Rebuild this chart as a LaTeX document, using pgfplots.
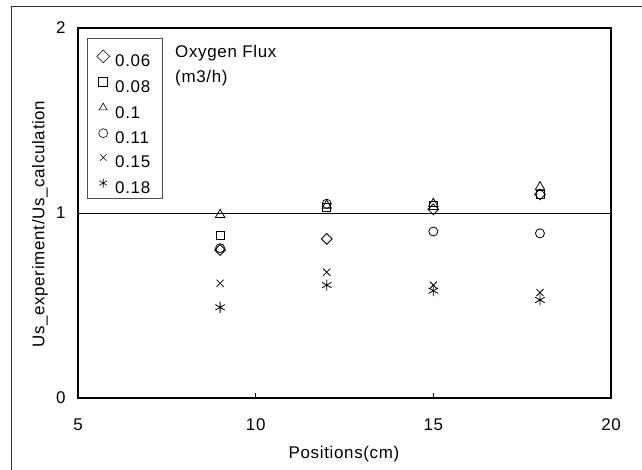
\documentclass[border=0pt]{standalone}
\usepackage{pgfplots}
\pgfplotsset{compat=1.18}
\usepackage{fontspec}
\setmainfont{Liberation Sans}[LetterSpace=4]
\begin{document}
\begin{tikzpicture}[x=1bp,y=1bp]
\useasboundingbox (0,0) rectangle (642,470);
\draw[line width=1bp, black!80] (11,0) -- (11,463) -- (642,463);
\begin{axis}[
  at={(78bp,72bp)}, anchor=south west,
  scale only axis, width=533bp, height=370bp,
  xmin=5, xmax=20, ymin=0, ymax=2,
  xtick={5,10,15,20}, ytick={0,1,2},
  tick align=inside, xtick pos=bottom, ytick pos=left,
  major tick length=5bp,
  axis line style={line width=1.1bp},
  every tick/.style={black, line width=0.6bp},
  /pgf/number format/assume math mode=true,
  tick label style={font=\fontsize{17}{17}\selectfont},
  xticklabel style={yshift=-17bp},
  yticklabel style={xshift=-9bp},
  xlabel={Positions(cm)},
  ylabel={Us\_experiment/Us\_calculation},
  label style={font=\fontsize{17}{17}\selectfont},
  xlabel style={at={(rel axis cs:0.499,-0.152)}, anchor=center},
  ylabel style={at={(rel axis cs:-0.0713,0.47)}, anchor=center},
  clip=false,
  legend style={at={(rel axis cs:0.0169,0.941)}, anchor=north west,
    draw=none, fill=none, font=\fontsize{17}{17}\selectfont,
    inner xsep=9bp, inner ysep=0bp, row sep=9.6bp,
    nodes={inner sep=1bp, text height=11bp, text depth=0bp}},
  legend cell align=left,
  legend image code/.code={\path[draw=none,fill=none] (0bp,0bp) (18bp,0bp);
     \draw[#1, mark size=4.5bp, line width=0.6bp] plot coordinates {(7bp,5bp)};},
  every axis plot/.append style={only marks, black, line width=0.8bp},
]
\addplot[mark=square, mark size=3.8bp, mark options={rotate=45}] coordinates {(9,0.80) (12,0.86) (15,1.02) (18,1.10)};
\addlegendentry{0.06}
\addplot[mark=square, mark size=4bp] coordinates {(9,0.88) (12,1.03) (15,1.04) (18,1.10)};
\addlegendentry{0.08}
\addplot[mark=triangle, mark size=5.5bp] coordinates {(9,0.99) (12,1.04) (15,1.05) (18,1.14)};
\addlegendentry{0.1}
\addplot[mark=o, mark size=4.5bp] coordinates {(9,0.81) (12,1.05) (15,0.90) (18,0.89)};
\addlegendentry{0.11}
\addplot[mark=x, mark size=5bp] coordinates {(9,0.62) (12,0.68) (15,0.61) (18,0.57)};
\addlegendentry{0.15}
\addplot[mark=asterisk, mark size=5.5bp] coordinates {(9,0.49) (12,0.61) (15,0.58) (18,0.53)};
\addlegendentry{0.18}
\draw[black, line width=0.9bp] (axis cs:5,1) -- (axis cs:20,1);
\draw[black!70, line width=0.7bp] (rel axis cs:0.0169,0.973) rectangle (rel axis cs:0.1576,0.5405);
\node[anchor=west, font=\fontsize{17}{17}\selectfont, inner sep=0] at (rel axis cs:0.182,0.932) {Oxygen Flux};
\node[anchor=west, font=\fontsize{17}{17}\selectfont, inner sep=0] at (rel axis cs:0.182,0.865) {(m3/h)};
\end{axis}
\end{tikzpicture}
\end{document}
